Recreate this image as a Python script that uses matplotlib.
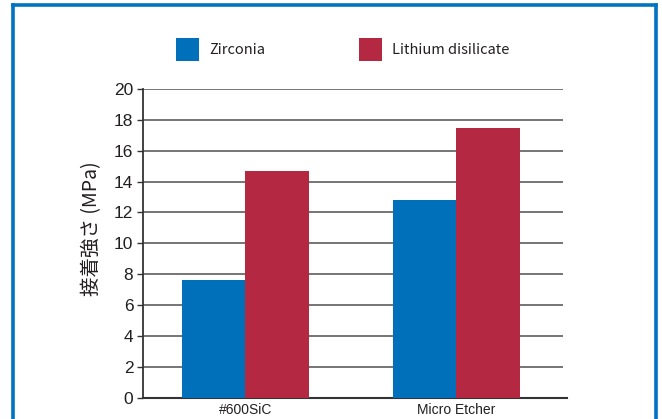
import matplotlib
matplotlib.use("Agg")
import matplotlib.pyplot as plt
from matplotlib.patches import Rectangle
from matplotlib.lines import Line2D
import numpy as np

# Bond strength data
categories = ["#600SiC", "Micro Etcher"]
series_names = ["Zirconia", "Lithium disilicate"]
zirconia = [7.6, 12.8]
lithium_disilicate = [14.7, 17.5]
y_ticks = [0, 2, 4, 6, 8, 10, 12, 14, 16, 18, 20]
y_label = "接着強さ (MPa)"

colors = ["#0070BB", "#B42841"]
text_color = "#231F20"
frame_color = "#0073C2"

W, H = 662, 419
fig = plt.figure(figsize=(W / 100, H / 100), dpi=100)
fig.patch.set_facecolor("white")

# Axes placed in pixel terms
ax_left, ax_right, ax_top, ax_bottom = 143, 563, 89, 397.7
ax = fig.add_axes([ax_left / W, 1 - ax_bottom / H,
                   (ax_right - ax_left) / W, (ax_bottom - ax_top) / H])

x = np.arange(len(categories))
bar_w = 0.301
values = [zirconia, lithium_disilicate]
for i, (name, vals) in enumerate(zip(series_names, values)):
    offset = (i - 0.5) * bar_w
    ax.bar(x + offset, vals, width=bar_w, color=colors[i], label=name,
           zorder=3, linewidth=0)

ax.set_ylim(0, 20)
ax.set_xlim(-0.486, 1.506)
ax.set_yticks(y_ticks)
ax.set_yticklabels([str(t) for t in y_ticks], fontfamily="Liberation Sans",
                   fontsize=12.5, color=text_color)
ax.set_xticks(x)
ax.set_xticklabels(categories, fontfamily="Liberation Sans", fontsize=10,
                   color=text_color)
ax.tick_params(axis="x", length=0, pad=4)
ax.tick_params(axis="y", length=4, width=1.0, color="#333333", pad=3,
               direction="out")

ax.yaxis.grid(True, color="#5E5E5E", linewidth=1.2, zorder=0)
ax.set_axisbelow(True)

for side in ["top", "right"]:
    ax.spines[side].set_visible(False)
ax.spines["left"].set_color("#333333")
ax.spines["left"].set_linewidth(1.3)
ax.spines["bottom"].set_color("#333333")
ax.spines["bottom"].set_linewidth(1.5)
ax.spines["bottom"].set_bounds(-0.486, 1.525)

fig.text(92 / W, 1 - 229 / H, y_label, rotation=90, ha="center", va="center",
         fontsize=14, color=text_color,
         fontfamily=["Noto Sans CJK JP", "DejaVu Sans"])

# Legend row at the top
legend_sq_x = [175.5, 359]
legend_txt_x = [209, 392]
sq = 23
sq_top = 38
for name, c, sx, tx in zip(series_names, colors, legend_sq_x, legend_txt_x):
    fig.patches.append(Rectangle((sx / W, 1 - (sq_top + sq) / H), sq / W, sq / H,
                                 transform=fig.transFigure, facecolor=c,
                                 edgecolor="none"))
    fig.text(tx / W, 1 - (sq_top + sq / 2) / H, name, ha="left", va="center",
             fontsize=10.5, color=text_color,
             fontfamily=["Noto Sans CJK JP", "DejaVu Sans"])

# Blue frame around the panel (open at the bottom)
fx0, fx1, fy0 = 13, 656, 4.7
for xs, ys in [([fx0, fx0], [H + 5, fy0]), ([fx0, fx1], [fy0, fy0]),
               ([fx1, fx1], [fy0, H + 5])]:
    fig.lines.append(Line2D([v / W for v in xs], [1 - v / H for v in ys],
                            transform=fig.transFigure, color=frame_color,
                            linewidth=2.6, solid_capstyle="projecting"))

fig.savefig("out.png", dpi=100, facecolor="white")
